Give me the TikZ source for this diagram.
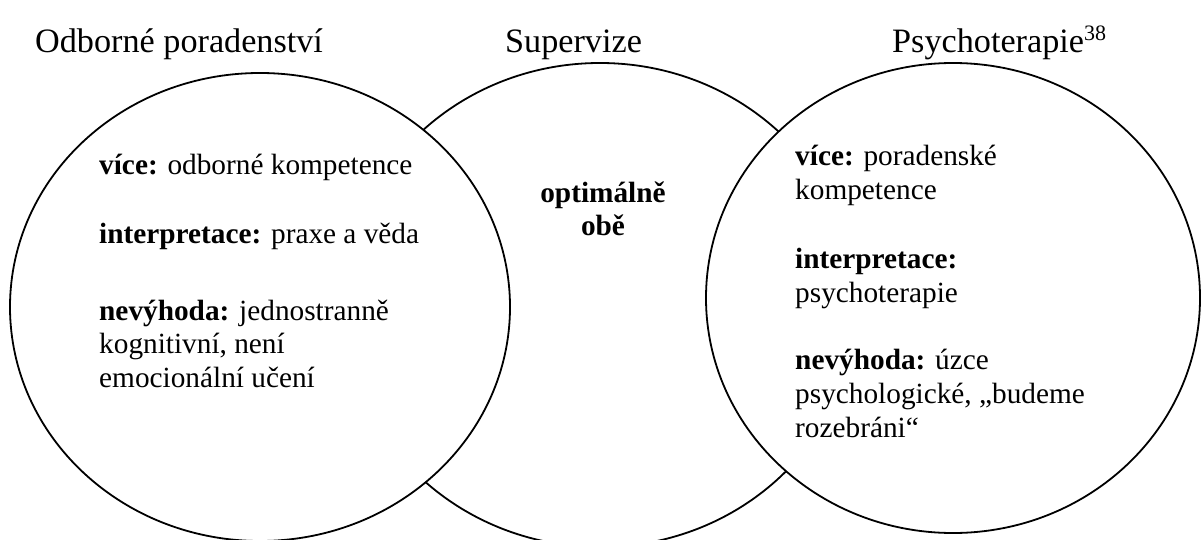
\documentclass[tikz,border=0pt]{standalone}
\usepackage{fontspec}
\setmainfont{Liberation Serif}
\usetikzlibrary{shapes.geometric}
\tikzset{
  circ/.style={ellipse, draw, line width=1.8pt, inner sep=0pt},
  body/.style={anchor=base west, inner sep=0pt, font=\fontsize{29.3}{33.7}\selectfont},
  mid/.style={anchor=base, inner sep=0pt, font=\fontsize{29.3}{33.7}\selectfont\bfseries},
  ttl/.style={anchor=base west, inner sep=0pt, font=\fontsize{34.2}{40}\selectfont},
}
\begin{document}
\begin{tikzpicture}[x=1pt,y=-1pt]
\useasboundingbox (0,0) rectangle (1201,540);
% circles
\node[circ, minimum width=512pt, minimum height=484pt] (M) at (600,305) {};
\node[circ, fill=white, minimum width=500pt, minimum height=468pt] (L) at (260,307) {};
\node[circ, fill=white, minimum width=494pt, minimum height=470pt] (R) at (953,298) {};
% titles
\node[ttl] (t1) at (35,53) {Odborné poradenství};
\node[ttl] (t2) at (505,53) {Supervize};
\node[ttl] (t3) at (892,53) {Psychoterapie\raisebox{12pt}{\fontsize{22}{22}\selectfont 38}};
% left circle text
\node[body] (l1) at (99,175) {\textbf{více:} odborné kompetence};
\node[body] (l2) at (99,243) {\textbf{interpretace:} praxe a věda};
\node[body] (l3) at (99,320) {\textbf{nevýhoda:} jednostranně};
\node[body] (l4) at (99,353) {kognitivní, není};
\node[body] (l5) at (99,387) {emocionální učení};
% middle text
\node[mid] (m1) at (603,202) {optimálně};
\node[mid] (m2) at (603,235) {obě};
% right circle text
\node[body] (r1) at (795,166) {\textbf{více:} poradenské};
\node[body] (r2) at (795,200) {kompetence};
\node[body] (r3) at (795,268) {\textbf{interpretace:}};
\node[body] (r4) at (795,302) {psychoterapie};
\node[body] (r5) at (795,369) {\textbf{nevýhoda:} úzce};
\node[body] (r6) at (795,403) {psychologické, „budeme};
\node[body] (r7) at (795,437) {rozebráni“};
\end{tikzpicture}
\end{document}
